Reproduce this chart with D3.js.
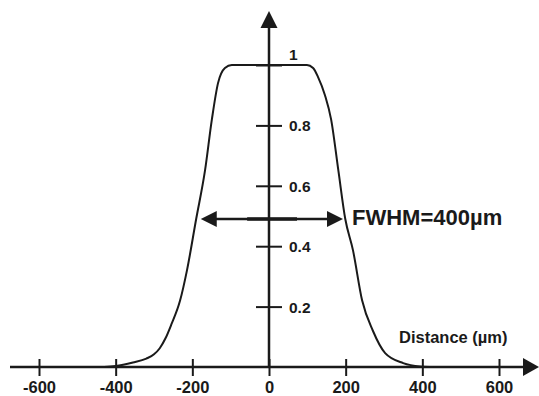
<!DOCTYPE html>
<html>
<head>
<meta charset="utf-8">
<script src="https://cdn.jsdelivr.net/npm/d3@7"></script>
<style>
  body { margin: 0; background: #fff; }
  svg text { font-family: "Liberation Sans", Arial, Helvetica, sans-serif; font-weight: bold; fill: #1a1a1a; }
</style>
</head>
<body>
<div id="chart"></div>
<script>
// beam profile: relative intensity vs distance (µm)
var distance  = [-430, -400, -355, -320, -300, -285, -270, -255, -232, -214, -190, -167, -149, -133, -115, -97, 0, 99, 115, 128, 146, 162, 181, 199, 219, 243, 271, 303, 350, 394, 430];
var intensity = [0, 0.003, 0.015, 0.028, 0.042, 0.062, 0.095, 0.14, 0.22, 0.32, 0.49, 0.65, 0.82, 0.94, 0.99, 1.0, 1.0, 1.0, 0.99, 0.96, 0.9, 0.82, 0.65, 0.49, 0.387, 0.22, 0.12, 0.046, 0.013, 0.002, 0];

var xTicks = [-600, -400, -200, 0, 200, 400, 600];
var xTickLabels = ["-600", "-400", "-200", "0", "200", "400", "600"];
var yTicks = [0.2, 0.4, 0.6, 0.8, 1];
var yTickLabels = ["0.2", "0.4", "0.6", "0.8", "1"];

var fwhmArrow = [-178, 193];   // arrow ends, µm
var fwhmLevel = 0.49;
var fwhmText = "FWHM=400µm";
var xTitle = "Distance (µm)";

var ink = "#1a1a1a";

var svg = d3.select("#chart").append("svg")
    .attr("width", 539)
    .attr("height", 396);

var x = d3.scaleLinear().domain([-600, 600]).range([39, 499]);
var y = d3.scaleLinear().domain([0, 1]).range([367, 65]);

// x axis
var gx = svg.append("g")
    .attr("transform", "translate(0," + y(0) + ")")
    .call(d3.axisBottom(x).tickValues(xTicks).tickFormat(function(d, i) { return xTickLabels[i]; }));
gx.select(".domain").remove();
gx.selectAll(".tick line")
    .attr("y1", -8).attr("y2", 9)
    .attr("stroke", ink).attr("stroke-width", 2);
gx.selectAll(".tick text")
    .attr("y", 26).attr("dy", 0)
    .style("font-size", "16.5px");

svg.append("line")
    .attr("x1", 10).attr("x2", 526)
    .attr("y1", y(0)).attr("y2", y(0))
    .attr("stroke", ink).attr("stroke-width", 2.5);
svg.append("path")
    .attr("d", "M539," + y(0) + "L523," + (y(0) - 9) + "L523," + (y(0) + 9) + "Z")
    .attr("fill", ink);

// y axis
var gy = svg.append("g")
    .attr("transform", "translate(" + x(0) + ",0)")
    .call(d3.axisRight(y).tickValues(yTicks).tickFormat(function(d, i) { return yTickLabels[i]; }));
gy.select(".domain").remove();
gy.selectAll(".tick line")
    .attr("x1", -13).attr("x2", 13)
    .attr("stroke", ink).attr("stroke-width", 2);
gy.selectAll(".tick text")
    .attr("x", 20)
    .attr("dy", function(d) { return d === 1 ? "-0.35em" : "0.35em"; })
    .style("font-size", "15.5px");

svg.append("line")
    .attr("x1", x(0)).attr("x2", x(0))
    .attr("y1", y(0)).attr("y2", 24)
    .attr("stroke", ink).attr("stroke-width", 2.5);
svg.append("path")
    .attr("d", "M" + x(0) + ",11L" + (x(0) - 8.5) + ",28L" + (x(0) + 8.5) + ",28Z")
    .attr("fill", ink);

// profile curve
var line = d3.line()
    .x(function(d, i) { return x(distance[i]); })
    .y(function(d) { return y(d); })
    .curve(d3.curveMonotoneX);
svg.append("path")
    .datum(intensity)
    .attr("d", line)
    .attr("fill", "none")
    .attr("stroke", ink)
    .attr("stroke-width", 2);

// FWHM arrow
var ay = y(fwhmLevel);
var ax1 = x(fwhmArrow[0]), ax2 = x(fwhmArrow[1]);
svg.append("line")
    .attr("x1", ax1 + 10).attr("x2", ax2 - 10)
    .attr("y1", ay).attr("y2", ay)
    .attr("stroke", ink).attr("stroke-width", 2.5);
svg.append("line")
    .attr("x1", x(-57)).attr("x2", x(73))
    .attr("y1", ay).attr("y2", ay)
    .attr("stroke", ink).attr("stroke-width", 3.5);
svg.append("path")
    .attr("d", "M" + ax1 + "," + ay + "L" + (ax1 + 16) + "," + (ay - 8) + "L" + (ax1 + 16) + "," + (ay + 8) + "Z")
    .attr("fill", ink);
svg.append("path")
    .attr("d", "M" + ax2 + "," + ay + "L" + (ax2 - 16) + "," + (ay - 8) + "L" + (ax2 - 16) + "," + (ay + 8) + "Z")
    .attr("fill", ink);

svg.append("text")
    .attr("x", 352)
    .attr("y", 225)
    .text(fwhmText)
    .style("font-size", "22px");

svg.append("text")
    .attr("x", 399)
    .attr("y", 343)
    .text(xTitle)
    .style("font-size", "16.5px");
</script>
</body>
</html>
